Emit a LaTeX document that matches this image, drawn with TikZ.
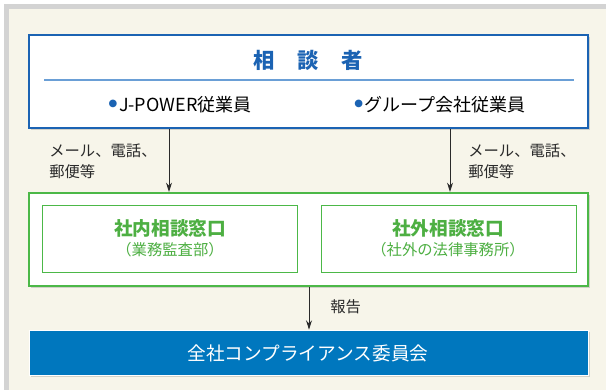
\documentclass[tikz,border=0pt]{standalone}
\usepackage{fontspec}
\setmainfont{Noto Sans CJK JP}
\newfontfamily\dejavu{DejaVu Sans}
\usetikzlibrary{arrows.meta,shadows,fit}
\definecolor{bgbeige}{HTML}{F7F5EA}
\definecolor{framegray}{HTML}{D3D3D3}
\definecolor{bblue}{HTML}{1B63B3}
\definecolor{lblue}{HTML}{6A9FD6}
\definecolor{barblue}{HTML}{0077BE}
\definecolor{gborder}{HTML}{4CB848}
\definecolor{gtext}{HTML}{4DAF42}
\definecolor{txtgray}{HTML}{2A2A2A}
\newcommand{\bdot}{\raisebox{0.28em}{\dejavu\fontsize{7.5}{7.5}\selectfont\textcolor{bblue}{●}}\hspace{0.1em}}
\begin{document}
\begin{tikzpicture}[x=0.75pt,y=-0.75pt,
  shd/.style={drop shadow={shadow xshift=1.5pt,shadow yshift=-1.5pt,opacity=0.25,fill=black!60}},
  bigbox/.style={inner sep=0pt,fill=white,line width=1.6pt,shd},
  innerbox/.style={inner sep=0pt,draw=gborder,line width=0.7pt},
  lbl/.style={font=\fontsize{11.5}{16}\selectfont,text=txtgray,align=left,inner sep=0pt},
  arr/.style={draw=txtgray,line width=0.7pt,-{Stealth[length=7pt,width=4.5pt]}},
  gtitle/.style={font=\fontsize{14}{14}\selectfont\bfseries,text=gtext},
  gsub/.style={font=\fontsize{11.5}{11.5}\selectfont,text=gtext},
  emp/.style={font=\fontsize{13.5}{13.5}\selectfont,text=black}]
\useasboundingbox (0,0) rectangle (606,390);
\fill[framegray] (4,4) rectangle (606,390);
\fill[bgbeige] (9,9) rectangle (606,390);
% consultants box
\coordinate (c1) at (29,35); \coordinate (c2) at (588,128);
\node[bigbox,draw=bblue,fit=(c1)(c2)] (consult) {};
\node[font=\fontsize{16}{16}\selectfont\bfseries,text=bblue] (title) at (308,60) {相\hspace{1.05em}談\hspace{1.05em}者};
\coordinate (d1) at (44,80); \coordinate (d2) at (574,80);
\draw[lblue,line width=0.9pt] (d1) -- (d2);
\node[emp] (emp1) at (180,105) {\bdot J-POWER従業員};
\node[emp] (emp2) at (440,105) {\bdot グループ会社従業員};
% windows box
\coordinate (g1) at (29,193); \coordinate (g2) at (588,286);
\node[bigbox,draw=gborder,fit=(g1)(g2)] (window) {};
\coordinate (i1) at (42,205); \coordinate (i2) at (297,272);
\node[innerbox,fit=(i1)(i2)] (inner) {};
\coordinate (o1) at (321,205); \coordinate (o2) at (576,272);
\node[innerbox,fit=(o1)(o2)] (outer) {};
\node[gtitle] (intitle) at (170,228) {社内相談窓口};
\node[gsub] (insub) at (170,250) {（業務監査部）};
\node[gtitle] (outtitle) at (448,228) {社外相談窓口};
\node[gsub] (outsub) at (448,250) {（社外の法律事務所）};
% committee bar
\coordinate (b1) at (29,330); \coordinate (b2) at (588,375);
\node[inner sep=0pt,fill=barblue,draw=white,line width=0.6pt,shd,fit=(b1)(b2)] (committee) {};
\node[font=\fontsize{14}{14}\selectfont,text=white] (comtext) at (308,353) {全社コンプライアンス委員会};
% arrows
\coordinate (ax1) at (169,0);
\coordinate (ax2) at (450,0);
\coordinate (ax3) at (309,0);
\draw[arr] (ax1 |- consult.south) -- (ax1 |- window.north);
\draw[arr] (ax2 |- consult.south) -- (ax2 |- window.north);
\draw[arr] (ax3 |- window.south) -- (ax3 |- committee.north);
\node[lbl,anchor=west] (mail1) at (49,161) {メール、電話、\\郵便等};
\node[lbl,anchor=west] (mail2) at (468,161) {メール、電話、\\郵便等};
\node[lbl,anchor=west] (report) at (330,307) {報告};
\end{tikzpicture}
\end{document}
